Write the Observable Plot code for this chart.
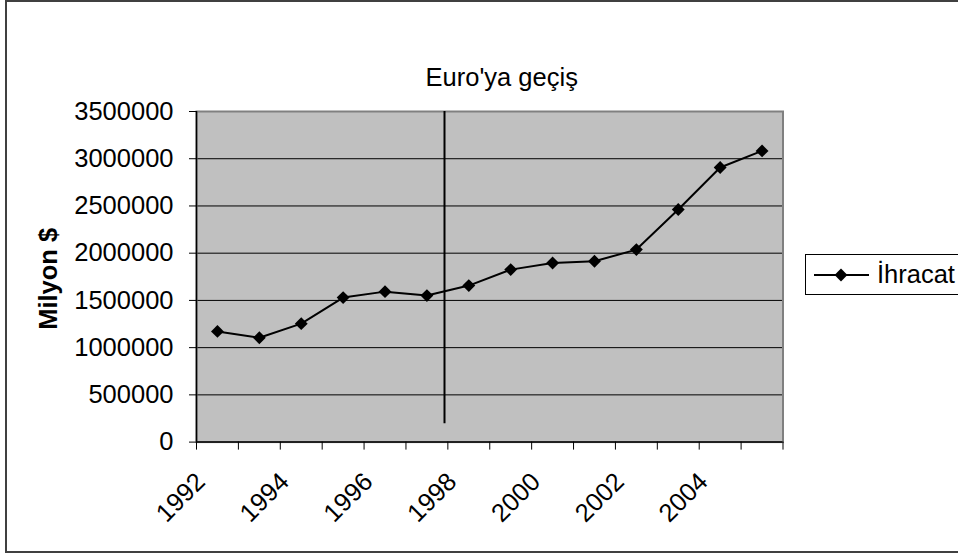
<!DOCTYPE html>
<html>
<head>
<meta charset="utf-8">
<script src="https://cdn.jsdelivr.net/npm/d3@7"></script>
<script src="https://cdn.jsdelivr.net/npm/@observablehq/plot@0.6"></script>
<style>
  html, body { margin: 0; padding: 0; background: #fff; overflow: hidden; }
  #wrap { position: relative; width: 958px; height: 556px; font-family: "Liberation Sans", Arial, sans-serif; }
  #border { position: absolute; left: 5px; top: 0; width: 960px; height: 553px; border: 2px solid #404040; box-sizing: border-box; pointer-events: none; }
  #legend { position: absolute; left: 805px; top: 254px; width: 160px; height: 41px; border: 1px solid #000; background: #fff; box-sizing: border-box; }
  #legend svg { position: absolute; left: 7px; top: 0; }
  #legend span { position: absolute; left: 71px; top: 5px; font-size: 25.5px; color: #000; }
  #chart { position: absolute; left: 0; top: 0; }
</style>
</head>
<body>
<div id="wrap">
  <div id="chart"></div>
  <div id="border"></div>
  <div id="legend"></div>
</div>
<script>
// Data
const years = [1992, 1993, 1994, 1995, 1996, 1997, 1998, 1999, 2000, 2001, 2002, 2003, 2004, 2005];
const ihracat = [1172000, 1105000, 1254000, 1530000, 1593000, 1551000, 1657000, 1826000, 1896000, 1914000, 2038000, 2462000, 2907000, 3083000];
const yTicks = [0, 500000, 1000000, 1500000, 2000000, 2500000, 3000000, 3500000];
const gridTicks = [500000, 1000000, 1500000, 2000000, 2500000, 3000000];
const xLabels = [1992, 1994, 1996, 1998, 2000, 2002, 2004];
const categoryBounds = [1991.5, 1992.5, 1993.5, 1994.5, 1995.5, 1996.5, 1997.5, 1998.5, 1999.5, 2000.5, 2001.5, 2002.5, 2003.5, 2004.5, 2005.5];
const euroYear = [1997.42];
const euroFrom = 194000;
const euroTo = 3500000;
const title = "Euro'ya geçiş";
const yLabel = "Milyon $";
const seriesName = "İhracat";

const data = years.map((y, i) => ({year: y, value: ihracat[i]}));
const FS = 25.5;

const chart = Plot.plot({
  width: 958,
  height: 556,
  marginLeft: 196,
  marginRight: 175.5,
  marginTop: 111,
  marginBottom: 114.4,
  style: {fontFamily: "Liberation Sans, Arial, sans-serif", fontSize: FS + "px", background: "transparent", color: "#000", overflow: "visible"},
  x: {type: "linear", domain: [1991.5, 2005.5]},
  y: {domain: [0, 3500000]},
  marks: [
    Plot.frame({fill: "#c0c0c0", stroke: "none"}),
    Plot.gridY(gridTicks, {stroke: "#000", strokeOpacity: 1, strokeWidth: 1}),
    Plot.frame({stroke: "#808080", strokeWidth: 2, fill: "none"}),
    Plot.ruleX(euroYear, {y1: euroFrom, y2: euroTo, stroke: "#000", strokeWidth: 2}),
    Plot.ruleX([1991.5], {stroke: "#000", strokeWidth: 1.5}),
    Plot.ruleY([0], {stroke: "#000", strokeWidth: 1.5}),
    Plot.axisY({ticks: yTicks, tickFormat: d3.format("d"), tickSize: 7, tickPadding: 16, label: null, fontSize: FS}),
    Plot.axisX({ticks: categoryBounds, tickFormat: () => "", tickSize: 8, label: null}),
    Plot.text(xLabels, {x: d => d, text: d => String(d), frameAnchor: "bottom", dy: 35.4, dx: -16.6, rotate: -45, textAnchor: "end", lineAnchor: "middle", fontSize: FS}),
    Plot.line(data, {x: "year", y: "value", stroke: "#000", strokeWidth: 2}),
    Plot.dot(data, {x: "year", y: "value", symbol: "diamond2", r: 5.8, fill: "#000", stroke: "none"}),
    Plot.text([title], {text: d => d, frameAnchor: "top", dy: -26, dx: 12, lineAnchor: "bottom", fontSize: FS}),
    Plot.text([yLabel], {text: d => d, frameAnchor: "left", dx: -148, dy: 2, rotate: -90, textAnchor: "middle", lineAnchor: "middle", fontSize: FS, fontWeight: "bold"})
  ]
});
document.getElementById("chart").appendChild(chart);

// Legend (HTML + small svg)
const legend = document.getElementById("legend");
const ns = "http://www.w3.org/2000/svg";
const lsvg = document.createElementNS(ns, "svg");
lsvg.setAttribute("width", "60");
lsvg.setAttribute("height", "40");
const ln = document.createElementNS(ns, "line");
ln.setAttribute("x1", "1"); ln.setAttribute("x2", "56");
ln.setAttribute("y1", "20"); ln.setAttribute("y2", "20");
ln.setAttribute("stroke", "#000"); ln.setAttribute("stroke-width", "2");
lsvg.appendChild(ln);
const dm = document.createElementNS(ns, "path");
dm.setAttribute("d", d3.symbol(d3.symbolDiamond2, Math.PI * 5.8 * 5.8)());
dm.setAttribute("transform", "translate(28,20)");
dm.setAttribute("fill", "#000");
lsvg.appendChild(dm);
legend.appendChild(lsvg);
const sp = document.createElement("span");
sp.textContent = seriesName;
legend.appendChild(sp);
</script>
</body>
</html>
